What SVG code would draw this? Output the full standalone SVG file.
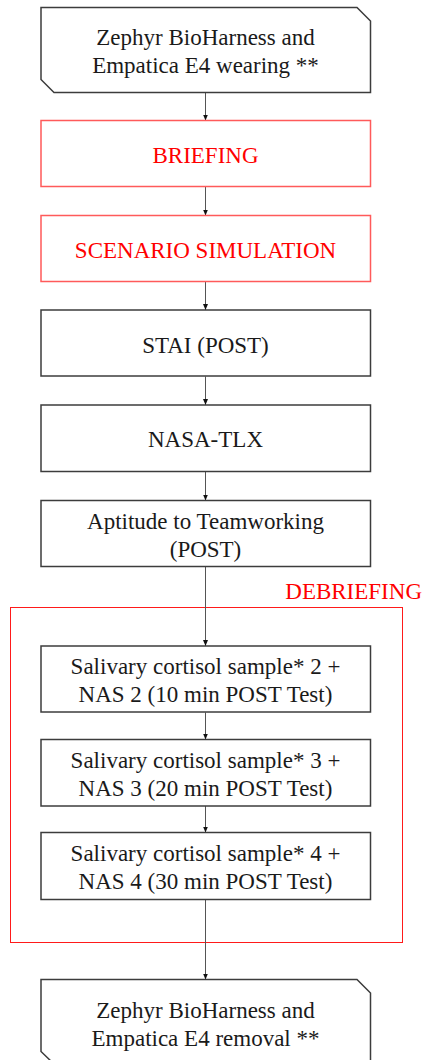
<svg xmlns="http://www.w3.org/2000/svg" width="425" height="1060" viewBox="0 0 425 1060">
  <style>
    .box { fill: #ffffff; stroke: #3c3c3c; stroke-width: 1.5; }
    .rbox { fill: #ffffff; stroke: #ff5a5a; stroke-width: 1.5; }
    .frame { fill: none; stroke: #ff1a1a; stroke-width: 1; }
    .t { font-family: "Liberation Serif", "Times New Roman", serif; font-size: 23px; fill: #1a1a1a; text-anchor: middle; }
    .tr { font-family: "Liberation Serif", "Times New Roman", serif; font-size: 23px; fill: #ff0000; text-anchor: middle; }
    .lbl { font-family: "Liberation Serif", "Times New Roman", serif; font-size: 23px; fill: #ff0000; text-anchor: end; }
    .conn { stroke: #555555; stroke-width: 1; fill: none; marker-end: url(#arrow); }
  </style>
  <defs>
    <marker id="arrow" viewBox="0 0 6 5" refX="6" refY="2.5" markerWidth="6" markerHeight="5" markerUnits="userSpaceOnUse" orient="auto">
      <path d="M0,0 L6,2.5 L0,5 Z" fill="#111111"/>
    </marker>
  </defs>

  <rect id="debriefing" class="frame" x="10.5" y="607.5" width="392" height="335"/>
  <text id="debriefing-label" class="lbl" x="422" y="599">DEBRIEFING</text>

  <g id="connectors">
    <line class="conn" x1="205.5" y1="93" x2="205.5" y2="120.5"/>
    <line class="conn" x1="205.5" y1="187" x2="205.5" y2="215.5"/>
    <line class="conn" x1="205.5" y1="282" x2="205.5" y2="310"/>
    <line class="conn" x1="205.5" y1="376.5" x2="205.5" y2="405"/>
    <line class="conn" x1="205.5" y1="472" x2="205.5" y2="500.5"/>
    <line class="conn" x1="205.5" y1="567" x2="205.5" y2="646"/>
    <line class="conn" x1="205.5" y1="712.5" x2="205.5" y2="739.5"/>
    <line class="conn" x1="205.5" y1="806" x2="205.5" y2="832.5"/>
    <line class="conn" x1="205.5" y1="900" x2="205.5" y2="979.5"/>
  </g>

  <g id="n-wearing">
    <path class="box" d="M41,7.5 H357 L370.5,21 V92.5 H54 L41,79.5 Z"/>
    <text class="t" x="205.5" y="45">Zephyr BioHarness and</text>
    <text class="t" x="205.5" y="73">Empatica E4 wearing **</text>
  </g>

  <g id="n-briefing">
    <rect class="rbox" x="41" y="120.5" width="329.5" height="66"/>
    <text class="tr" x="205.5" y="163">BRIEFING</text>
  </g>

  <g id="n-scenario">
    <rect class="rbox" x="41" y="215.5" width="329.5" height="66"/>
    <text class="tr" x="205.5" y="257.5">SCENARIO SIMULATION</text>
  </g>

  <g id="n-stai">
    <rect class="box" x="41" y="310" width="329.5" height="66"/>
    <text class="t" x="205.5" y="352.5">STAI (POST)</text>
  </g>

  <g id="n-nasatlx">
    <rect class="box" x="41" y="405" width="329.5" height="66.5"/>
    <text class="t" x="205.5" y="447">NASA-TLX</text>
  </g>

  <g id="n-aptitude">
    <rect class="box" x="41" y="500.5" width="329.5" height="66"/>
    <text class="t" x="205.5" y="529">Aptitude to Teamworking</text>
    <text class="t" x="205.5" y="557">(POST)</text>
  </g>

  <g id="n-cortisol2">
    <rect class="box" x="41" y="646" width="329.5" height="66"/>
    <text class="t" x="205.5" y="673.5">Salivary cortisol sample* 2 +</text>
    <text class="t" x="205.5" y="701.5">NAS 2 (10 min POST Test)</text>
  </g>

  <g id="n-cortisol3">
    <rect class="box" x="41" y="739.5" width="329.5" height="66.5"/>
    <text class="t" x="205.5" y="767.5">Salivary cortisol sample* 3 +</text>
    <text class="t" x="205.5" y="795.5">NAS 3 (20 min POST Test)</text>
  </g>

  <g id="n-cortisol4">
    <rect class="box" x="41" y="832.5" width="329.5" height="67"/>
    <text class="t" x="205.5" y="861">Salivary cortisol sample* 4 +</text>
    <text class="t" x="205.5" y="889">NAS 4 (30 min POST Test)</text>
  </g>

  <g id="n-removal">
    <path class="box" d="M41,979.5 H357 L370.5,993 V1064 H54 L41,1051.5 Z"/>
    <text class="t" x="205.5" y="1017.5">Zephyr BioHarness and</text>
    <text class="t" x="205.5" y="1045.5">Empatica E4 removal **</text>
  </g>
</svg>
